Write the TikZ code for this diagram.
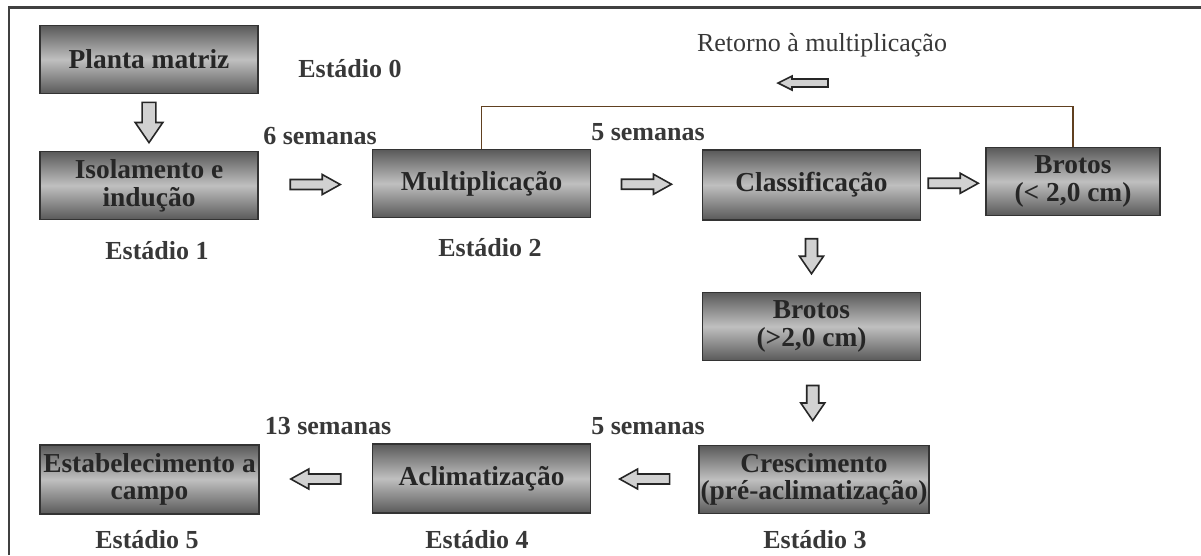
\documentclass[tikz,border=0pt]{standalone}
\usepackage{fontspec}
\setmainfont{Liberation Serif}
\usetikzlibrary{calc}
\tikzset{
  stagebox/.style={draw=black!80, line width=0.8pt, top color=black!65, bottom color=black!65, middle color=black!25,
    minimum width=4.36cm, minimum height=1.36cm, align=center, inner sep=1pt,
    font=\fontsize{15.6}{15.8}\selectfont\bfseries, text=black!85},
  stagelabel/.style={font=\fontsize{14.8}{16}\selectfont\bfseries, text=black!78},
  hollow/.style={draw=black!85, line width=0.9pt, fill=black!18},
  harrow/.pic={\draw[hollow] (-0.5,-0.1) -- (0.14,-0.1) -- (0.14,-0.2) -- (0.5,0) -- (0.14,0.2) -- (0.14,0.1) -- (-0.5,0.1) -- cycle;},
  varrow/.pic={\draw[hollow] (-0.12,0.35) -- (-0.12,0) -- (-0.24,0) -- (0,-0.35) -- (0.24,0) -- (0.12,0) -- (0.12,0.35) -- cycle;},
  sarrow/.pic={\draw[hollow] (0.5,-0.08) -- (-0.22,-0.08) -- (-0.22,-0.14) -- (-0.5,0) -- (-0.22,0.14) -- (-0.22,0.08) -- (0.5,0.08) -- cycle;}
}

\begin{document}
\begin{tikzpicture}
\useasboundingbox (0,0) rectangle (24.02,-11.10);
\draw[black!75, line width=1.7pt] (0.18,-11.10) -- (0.18,-0.14) -- (24.02,-0.14);

% boxes
\node[stagebox] (planta) at (2.98,-1.19) {Planta matriz};
\node[stagebox] (isol) at (2.98,-3.71) {Isolamento e\\indução};
\node[stagebox] (multi) at (9.63,-3.67) {Multiplicação};
\node[stagebox, minimum height=1.40cm] (class) at (16.23,-3.70) {Classificação};
\node[stagebox, minimum width=3.48cm] (brotosA) at (21.46,-3.63) {Brotos\\(< 2,0 cm)};
\node[stagebox] (brotosB) at (16.23,-6.53) {Brotos\\(>2,0 cm)};
\node[stagebox, minimum width=4.44cm] (cresc) at (16.28,-9.59) {Crescimento\\(pré-aclimatização)};
\node[stagebox, minimum height=1.38cm] (aclim) at (9.63,-9.57) {Aclimatização};
\node[stagebox, minimum width=4.38cm, minimum height=1.38cm] (estab) at (2.99,-9.59) {Estabelecimento a\\campo};

% labels
\node[stagelabel] (e0) at (7.00,-1.38) {Estádio 0};
\node[stagelabel] (e1) at (3.14,-5.02) {Estádio 1};
\node[stagelabel] (e2) at (9.80,-4.96) {Estádio 2};
\node[stagelabel] (e3) at (16.30,-10.80) {Estádio 3};
\node[stagelabel] (e4) at (9.54,-10.80) {Estádio 4};
\node[stagelabel] (e5) at (2.94,-10.80) {Estádio 5};
\node[stagelabel] (w1) at (6.40,-2.72) {6 semanas};
\node[stagelabel] (w2) at (12.96,-2.64) {5 semanas};
\node[stagelabel] (w3) at (12.96,-8.52) {5 semanas};
\node[stagelabel] (w4) at (6.56,-8.52) {13 semanas};
\node[font=\fontsize{14.8}{16}\selectfont, text=black!78] (ret) at (16.44,-0.90) {Retorno à multiplicação};

% return loop
\draw[black!50!brown, line width=0.7pt] (multi.north) -- ++(0,0.84) -| (brotosA.north);
\pic at (16.06,-1.66) {sarrow};

% arrows
\pic[scale=1.15] at ($(planta.south)!0.5!(isol.north)$) {varrow};
\pic at ($(isol.east)!0.5!(multi.west)$) {harrow};
\pic at ($(multi.east)!0.5!(class.west)$) {harrow};
\pic at ($(class.east)!0.5!(brotosA.west)$) {harrow};
\pic at ($(class.south)!0.5!(brotosB.north)$) {varrow};
\pic at ($(brotosB.south)!0.5!(cresc.north)$) {varrow};
\pic[rotate=180] at ($(cresc.west)!0.5!(aclim.east)$) {harrow};
\pic[rotate=180] at ($(aclim.west)!0.5!(estab.east)$) {harrow};
\end{tikzpicture}
\end{document}
